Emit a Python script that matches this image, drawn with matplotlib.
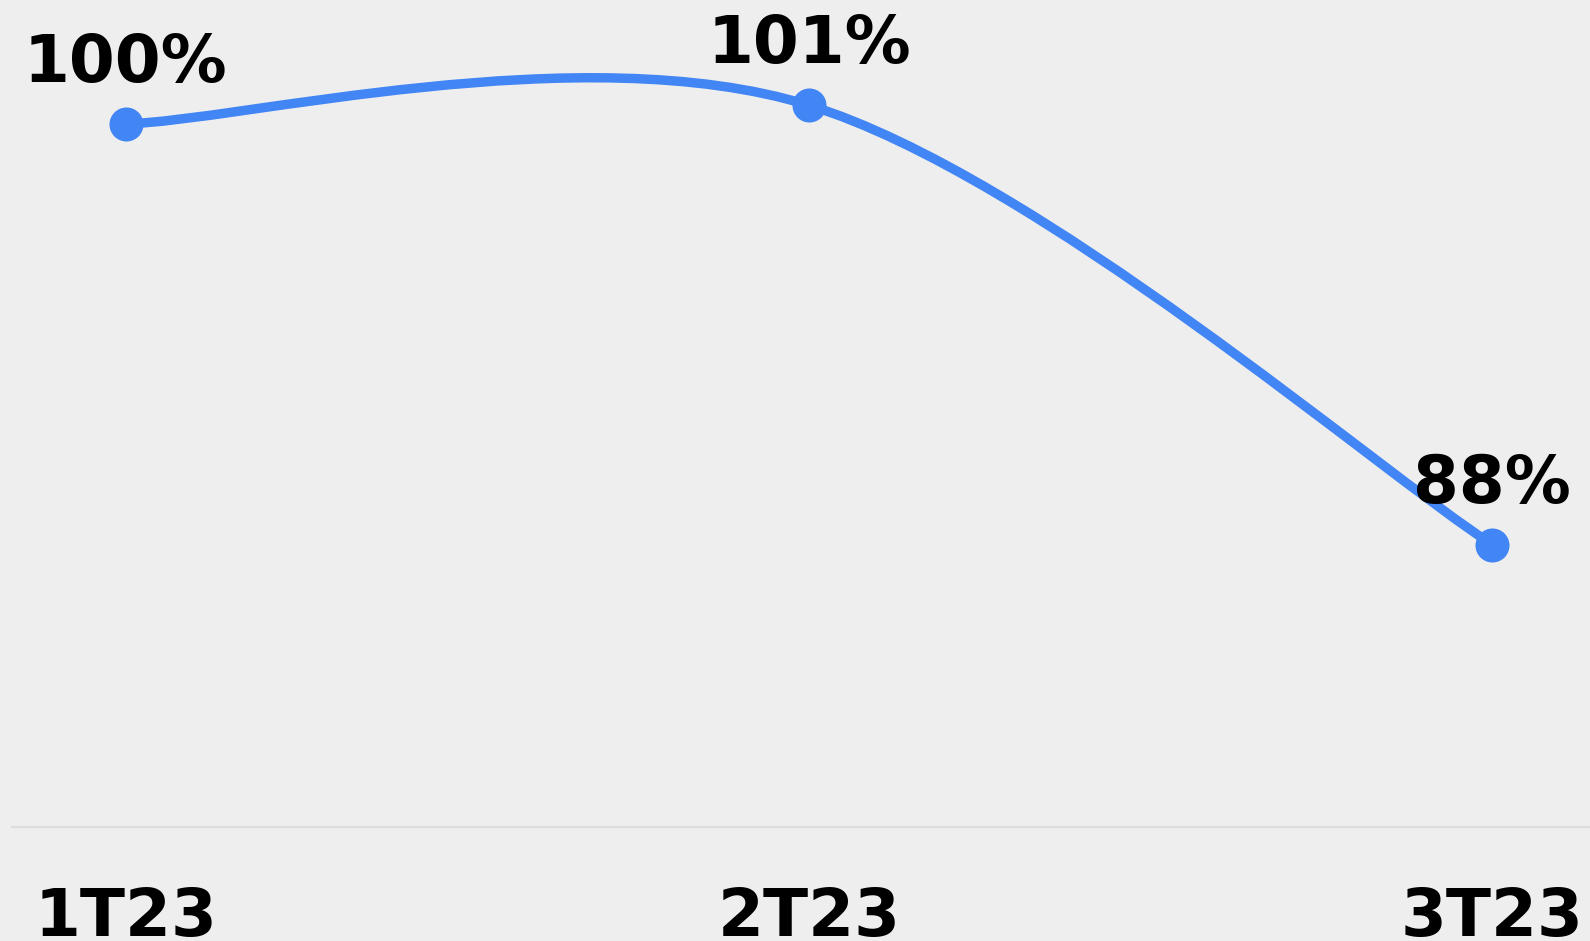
import matplotlib
matplotlib.use("Agg")
import matplotlib.pyplot as plt
from matplotlib.path import Path
from matplotlib.patches import PathPatch

# ---- data ----
quarters = ["1T23", "2T23", "3T23"]
values = [100.3, 100.84, 88.15]

# ---- style ----
BG = "#eeeeee"
LINE = "#4285f4"
BASE = "#dcdcdc"
FS = 47.5

W, H = 1590, 941
fig = plt.figure(figsize=(W / 100, H / 100), dpi=100, facecolor=BG)
ax = fig.add_axes([12 / W, (H - 826.7) / H, (W - 12) / W, 826.7 / H])
ax.set_facecolor(BG)
ax.set_xlim(-0.1664, 2.143)
ax.set_ylim(80, 103.88)
for s in ax.spines.values():
    s.set_visible(False)
ax.set_xticks([])
ax.set_yticks([])
ax.axhline(80, color=BASE, lw=1.6, clip_on=False, zorder=1)

# smooth Catmull-Rom curve (uniform, duplicated end points)
xs = list(range(len(values)))
pts = list(zip(xs, values))
k = 1 / 6
n = len(pts)
verts = [pts[0]]
codes = [Path.MOVETO]
for i in range(n - 1):
    p_prev = pts[i - 1] if i > 0 else pts[i]
    p0 = pts[i]
    p1 = pts[i + 1]
    p_next = pts[i + 2] if i + 2 < n else pts[i + 1]
    c1 = (p0[0] + k * (p1[0] - p_prev[0]), p0[1] + k * (p1[1] - p_prev[1]))
    c2 = (p1[0] - k * (p_next[0] - p0[0]), p1[1] - k * (p_next[1] - p0[1]))
    verts += [c1, c2, p1]
    codes += [Path.CURVE4] * 3
ax.add_patch(PathPatch(Path(verts, codes), fill=False, edgecolor=LINE, lw=6.8,
                       capstyle="round", joinstyle="round", zorder=2))
ax.plot(xs, values, "o", color=LINE, markersize=24.5, markeredgewidth=0, zorder=3)

for x, v in zip(xs, values):
    ax.annotate(f"{round(v)}%", xy=(x, v), xytext=(0, 30.2), textcoords="offset points",
                ha="center", va="baseline", fontsize=FS, fontweight="bold",
                family="DejaVu Sans", color="black", zorder=4)

for x, q in zip(xs, quarters):
    ax.annotate(q, xy=(x, 0), xycoords=("data", "axes fraction"), xytext=(0, -78.7),
                textcoords="offset points", ha="center", va="baseline", fontsize=FS,
                fontweight="bold", family="DejaVu Sans", color="black",
                annotation_clip=False)

fig.savefig("out.png", dpi=100, facecolor=BG)
